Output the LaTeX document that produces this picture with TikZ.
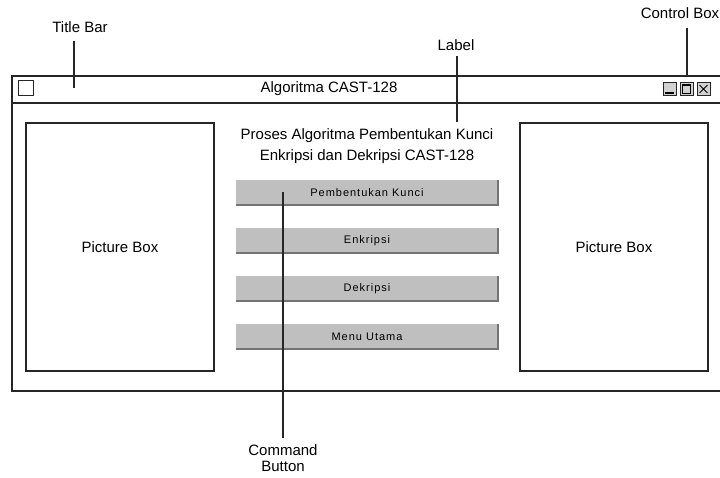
\documentclass[tikz,border=0pt]{standalone}
\usepackage{fontspec}
\setmainfont{Liberation Sans}
\newfontfamily\btnfont[LetterSpace=9]{Liberation Sans}
\begin{document}
\begin{tikzpicture}[x=1pt,y=-1pt,
  frame/.style={draw=black!85,line width=1.2pt},
  leader/.style={draw=black!85,line width=1.1pt},
  caption/.style={font=\fontsize{15}{16}\selectfont,inner sep=0pt},
  picbox/.style={frame,minimum width=188pt,minimum height=248pt,inner sep=0pt,
    font=\fontsize{15}{16}\selectfont},
  cmdbtn/.style={fill=black!25,minimum width=262pt,minimum height=25pt,inner sep=0pt,
    font=\btnfont\fontsize{11}{12}\selectfont},
  ctlbtn/.style={draw=black!85,line width=0.9pt,fill=black!18,minimum size=13pt,inner sep=0pt}]
\useasboundingbox (0,0) rectangle (720,477);
\fill[white] (0,0) rectangle (720,477);

% application window (its right edge runs off the page)
\coordinate (wtl) at (12,76);
\coordinate (wbl) at (12,391);
\draw[frame] (720,76) -- (wtl) -- (wbl) -- (720,391);
\draw[frame] (12,103) -- (720,103);
\node[draw=black!85,line width=0.9pt,minimum size=15pt,inner sep=0pt] (icon) at (26,88) {};
\node[caption] (title) at (329,89) {Algoritma CAST-128};

% control box
\node[ctlbtn] (bmin) at (669.5,89) {};
\node[ctlbtn] (bmax) at (686.5,89) {};
\node[ctlbtn] (bcls) at (703.5,89) {};
\draw[black,line width=1.8pt] ([shift={(2pt,3pt)}]bmin.south west) -- ([shift={(-2pt,3pt)}]bmin.south east);
\draw[black,line width=0.9pt] ([shift={(2.8pt,2.8pt)}]bmax.south west) rectangle ([shift={(-2.8pt,-2.8pt)}]bmax.north east);
\draw[black,line width=1.5pt] ([shift={(2.8pt,-3.4pt)}]bmax.north west) -- ([shift={(-2.8pt,-3.4pt)}]bmax.north east);
\draw[black,line width=0.9pt] ([shift={(3pt,-3pt)}]bcls.north west) -- ([shift={(-3pt,3pt)}]bcls.south east)
  ([shift={(3pt,3pt)}]bcls.south west) -- ([shift={(-3pt,-3pt)}]bcls.north east);

% picture boxes
\node[picbox] (picL) at (120,247) {Picture Box};
\node[picbox] (picR) at (614,247) {Picture Box};

% heading label
\node[caption,align=center,font=\fontsize{15}{21}\selectfont] (head) at (367,146)
  {Proses Algoritma Pembentukan Kunci\\Enkripsi dan Dekripsi CAST-128};

% command buttons with shaded lower and right edges
\foreach \nm/\yy/\txt in {b1/192.5/Pembentukan Kunci,b2/240.5/Enkripsi,b3/288.5/Dekripsi,b4/336.5/Menu Utama}{
  \node[cmdbtn] (\nm) at (367,\yy) {\txt};
  \draw[black!55,line width=1.6pt] (\nm.south west) -- (\nm.south east) -- (\nm.north east);
}

% callouts
\node[caption] (lTitle) at (80,27) {Title Bar};
\coordinate (tTitle) at (74,88);
\draw[leader] (tTitle |- 0,41) -- (tTitle);

\node[caption] (lCtl) at (680,13) {Control Box};
\coordinate (tCtl) at (687,76);
\draw[leader] (tCtl |- 0,28) -- (tCtl);

\node[caption] (lLab) at (456,45) {Label};
\coordinate (tLab) at (457,122);
\draw[leader] (tLab |- 0,56) -- (tLab);

\node[caption,align=center] (lCmd) at (283,458) {Command\\Button};
\coordinate (tCmd) at (283,192);
\draw[leader] (tCmd) -- (tCmd |- 0,438);
\end{tikzpicture}
\end{document}
